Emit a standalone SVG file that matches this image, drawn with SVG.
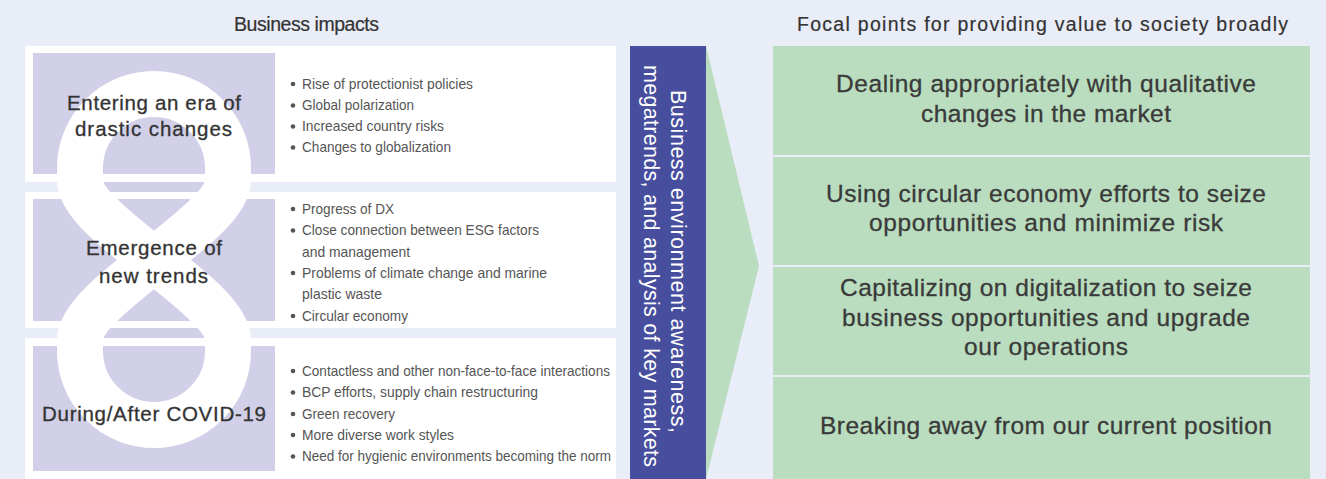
<svg xmlns="http://www.w3.org/2000/svg" width="1326" height="479" viewBox="0 0 1326 479">
<style>
.hdr{font-family:"Liberation Sans",Arial,sans-serif;font-size:19.5px;fill:#333;text-anchor:middle;stroke:#333;stroke-width:0.2}
.ttl{font-family:"Liberation Sans",Arial,sans-serif;font-size:20.5px;fill:#333;text-anchor:middle;stroke:#333;stroke-width:0.3}
.bl{font-family:"Liberation Sans",Arial,sans-serif;font-size:14.5px;fill:#555}
.gt{font-family:"Liberation Sans",Arial,sans-serif;font-size:24.5px;fill:#3a3a3a;text-anchor:middle;stroke:#3a3a3a;stroke-width:0.3}
.vt{font-family:"Liberation Sans",Arial,sans-serif;font-size:21.5px;fill:#fff;text-anchor:middle}
.panel{fill:#fff}
.lav{fill:#D1D0E8}
.grn{fill:#B9DDBE}
.dot{fill:#555}
</style>
<defs>
<clipPath id="eightClip">
<rect x="33" y="53" width="242" height="121"/>
<rect x="33" y="199" width="242" height="122"/>
<rect x="33" y="346" width="242" height="125"/>
<rect x="0" y="182" width="300" height="10"/>
<rect x="0" y="328" width="300" height="10"/>
</clipPath>
</defs>
<rect x="0" y="0" width="1326" height="479" fill="#E9EDF8"/>
<text class="hdr" x="306.5" y="31" textLength="145">Business impacts</text>
<text class="hdr" x="1042.5" y="31" textLength="491">Focal points for providing value to society broadly</text>

<g id="panel-drastic">
<rect class="panel" x="25" y="46" width="591" height="136"/>
<rect class="lav" x="33" y="53" width="242" height="121"/>
</g>
<g id="panel-trends">
<rect class="panel" x="25" y="192" width="591" height="136"/>
<rect class="lav" x="33" y="199" width="242" height="122"/>
</g>
<g id="panel-covid">
<rect class="panel" x="25" y="338" width="591" height="141"/>
<rect class="lav" x="33" y="346" width="242" height="125"/>
</g>

<g id="eight" clip-path="url(#eightClip)">
<path d="M80 180 L80 168 A74 74 0 0 1 228 168 L228 180 C228 225 80 295 80 340 L80 351 A74 74 0 0 0 228 351 L228 340 C228 295 80 225 80 180 Z" fill="#D1D0E8" stroke="#fff" stroke-width="46"/>
</g>

<g id="text-drastic">
<text class="ttl" x="154" y="110" textLength="174">Entering an era of</text>
<text class="ttl" x="153.5" y="136" textLength="157">drastic changes</text>
<circle class="dot" cx="293" cy="84" r="2.3"/>
<circle class="dot" cx="293" cy="105.5" r="2.3"/>
<circle class="dot" cx="293" cy="126.5" r="2.3"/>
<circle class="dot" cx="293" cy="147.5" r="2.3"/>
<text class="bl" x="302" y="88.5" textLength="171" lengthAdjust="spacingAndGlyphs">Rise of protectionist policies</text>
<text class="bl" x="302" y="110" textLength="112" lengthAdjust="spacingAndGlyphs">Global polarization</text>
<text class="bl" x="302" y="131" textLength="142" lengthAdjust="spacingAndGlyphs">Increased country risks</text>
<text class="bl" x="302" y="152" textLength="149" lengthAdjust="spacingAndGlyphs">Changes to globalization</text>
</g>

<g id="text-trends">
<text class="ttl" x="154" y="255" textLength="136">Emergence of</text>
<text class="ttl" x="153.5" y="283" textLength="109">new trends</text>
<circle class="dot" cx="293" cy="209" r="2.3"/>
<circle class="dot" cx="293" cy="230.5" r="2.3"/>
<circle class="dot" cx="293" cy="273" r="2.3"/>
<circle class="dot" cx="293" cy="316" r="2.3"/>
<text class="bl" x="302" y="213.5" textLength="92" lengthAdjust="spacingAndGlyphs">Progress of DX</text>
<text class="bl" x="302" y="235" textLength="237" lengthAdjust="spacingAndGlyphs">Close connection between ESG factors</text>
<text class="bl" x="302" y="256.5" textLength="108" lengthAdjust="spacingAndGlyphs">and management</text>
<text class="bl" x="302" y="277.5" textLength="245" lengthAdjust="spacingAndGlyphs">Problems of climate change and marine</text>
<text class="bl" x="302" y="299" textLength="80" lengthAdjust="spacingAndGlyphs">plastic waste</text>
<text class="bl" x="302" y="320.5" textLength="106" lengthAdjust="spacingAndGlyphs">Circular economy</text>
</g>

<g id="text-covid">
<text class="ttl" x="154" y="421" textLength="224">During/After COVID-19</text>
<circle class="dot" cx="293" cy="371" r="2.3"/>
<circle class="dot" cx="293" cy="392.5" r="2.3"/>
<circle class="dot" cx="293" cy="414" r="2.3"/>
<circle class="dot" cx="293" cy="435" r="2.3"/>
<circle class="dot" cx="293" cy="456.5" r="2.3"/>
<text class="bl" x="302" y="375.5" textLength="308" lengthAdjust="spacingAndGlyphs">Contactless and other non-face-to-face interactions</text>
<text class="bl" x="302" y="397" textLength="236" lengthAdjust="spacingAndGlyphs">BCP efforts, supply chain restructuring</text>
<text class="bl" x="302" y="418.5" textLength="93" lengthAdjust="spacingAndGlyphs">Green recovery</text>
<text class="bl" x="302" y="439.5" textLength="152" lengthAdjust="spacingAndGlyphs">More diverse work styles</text>
<text class="bl" x="302" y="461" textLength="309" lengthAdjust="spacingAndGlyphs">Need for hygienic environments becoming the norm</text>
</g>

<g id="connectors">
<polygon class="grn" points="706,46 759,266 706,479"/>
</g>

<g id="analysis-bar">
<rect x="630" y="46" width="76" height="433" fill="#474E9E"/>
<g transform="translate(671,261.5) rotate(90)">
<text class="vt" x="0" y="0" textLength="343">Business environment awareness,</text>
<text class="vt" x="4.5" y="27" textLength="402">megatrends, and analysis of key markets</text>
</g>
</g>

<g id="focal-1">
<rect class="grn" x="773" y="46" width="537" height="109"/>
<text class="gt" x="1046" y="92" textLength="420">Dealing appropriately with qualitative</text>
<text class="gt" x="1046" y="122" textLength="250">changes in the market</text>
</g>
<g id="focal-2">
<rect class="grn" x="773" y="157" width="537" height="108"/>
<text class="gt" x="1046" y="202" textLength="440">Using circular economy efforts to seize</text>
<text class="gt" x="1046" y="231" textLength="354">opportunities and minimize risk</text>
</g>
<g id="focal-3">
<rect class="grn" x="773" y="267" width="537" height="108"/>
<text class="gt" x="1046" y="296" textLength="412">Capitalizing on digitalization to seize</text>
<text class="gt" x="1046" y="326" textLength="408">business opportunities and upgrade</text>
<text class="gt" x="1046" y="355" textLength="164">our operations</text>
</g>
<g id="focal-4">
<rect class="grn" x="773" y="377" width="537" height="102"/>
<text class="gt" x="1046" y="434" textLength="452">Breaking away from our current position</text>
</g>
</svg>
